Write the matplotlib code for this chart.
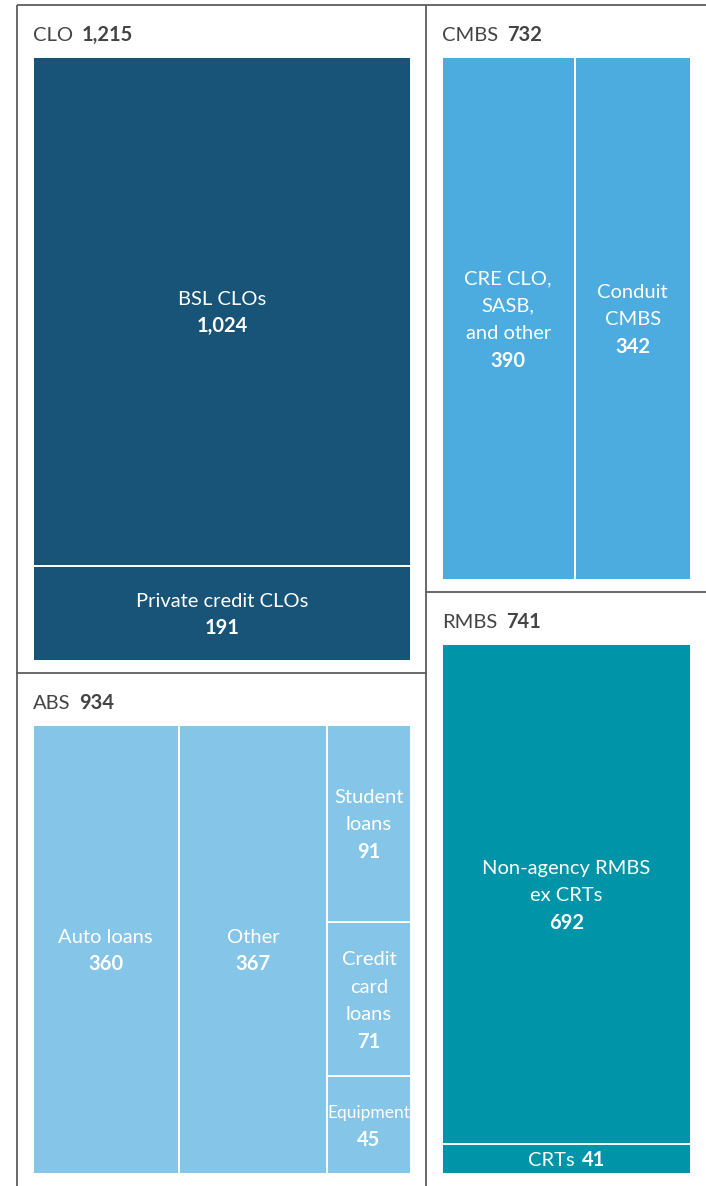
import matplotlib
matplotlib.use("Agg")
import matplotlib.pyplot as plt
from matplotlib.patches import Rectangle

plt.rcParams['font.family'] = ['Lato', 'DejaVu Sans']

# Sector totals ($bn)
group_names = ['CLO', 'ABS', 'CMBS', 'RMBS']
group_totals = [1215, 934, 732, 741]

# Sub-sectors
clo_names = ['BSL CLOs', 'Private credit CLOs']
clo_values = [1024, 191]

cmbs_names = ['CRE CLO,\nSASB,\nand other', 'Conduit\nCMBS']
cmbs_values = [390, 342]

rmbs_names = ['Non-agency RMBS\nex CRTs', 'CRTs']
rmbs_values = [692, 41]

abs_names = ['Auto loans', 'Other']
abs_values = [360, 367]
abs_small_names = ['Student\nloans', 'Credit\ncard\nloans', 'Equipment']
abs_small_values = [91, 71, 45]

colors = {'CLO': '#185478', 'CMBS': '#4dacdf', 'ABS': '#85c5e8', 'RMBS': '#0094a8'}
line_col = '#5e5e5e'
title_col = '#444444'

W_PX, H_PX = 706, 1186
fig = plt.figure(figsize=(W_PX / 100, H_PX / 100), dpi=100)
ax = fig.add_axes([0, 0, 1, 1])
ax.set_xlim(0, W_PX)
ax.set_ylim(H_PX, 0)
ax.axis('off')
renderer = fig.canvas.get_renderer()

FS = 14.5
LINE_H = 27.5


def split(x, y, w, h, values, vertical):
    """Slice a box proportionally to values; vertical=True stacks top to bottom."""
    tot = float(sum(values))
    out = []
    pos = 0.0
    for v in values:
        frac = v / tot
        if vertical:
            out.append((x, y + pos * h, w, frac * h))
        else:
            out.append((x + pos * w, y, frac * w, h))
        pos += frac
    return out


def text_width(t):
    return t.get_window_extent(renderer).width


def inline_pair(x, y, left, right, color, ha='left', size=FS, gap=8):
    t1 = ax.text(x, y, left, color=color, fontsize=size, va='baseline')
    t2 = ax.text(x, y, right, color=color, fontsize=size, va='baseline',
                 fontweight='bold')
    w1, w2 = text_width(t1), text_width(t2)
    start = x if ha == 'left' else x - (w1 + gap + w2) / 2
    t1.set_x(start)
    t2.set_x(start + w1 + gap)


def cell(rect, name, value, color, inline=False):
    x, y, w, h = rect
    ax.add_patch(Rectangle((x, y), w, h, facecolor=color, edgecolor='white',
                           linewidth=1.4))
    cx, cy = x + w / 2, y + h / 2
    val = f'{value:,}'
    if inline:
        inline_pair(cx, cy + 7, name, val, 'white', ha='center', gap=7)
        return
    lines = name.split('\n') + [val]
    n = len(lines)
    for i, s in enumerate(lines):
        yy = cy + (i - (n - 1) / 2) * LINE_H + 7
        t = ax.text(cx, yy, s, color='white', fontsize=FS, ha='center',
                    va='baseline', fontweight='bold' if i == n - 1 else 'normal')
        # shrink a label that would spill over the cell edges
        tw = text_width(t)
        if tw > w - 1:
            t.set_fontsize(FS * (w - 1) / tw)


# outer frame and panel boxes from totals
X0, X1, Y0, Y1 = 17, W_PX, 5, H_PX
tot = sum(group_totals)
left_w = (X1 - X0) * (group_totals[0] + group_totals[1]) / tot
xl, xr = X0, X0 + left_w
clo_h = (Y1 - Y0) * group_totals[0] / (group_totals[0] + group_totals[1])
cmbs_h = (Y1 - Y0) * group_totals[2] / (group_totals[2] + group_totals[3])

panels = {
    'CLO': (xl, Y0, left_w, clo_h),
    'ABS': (xl, Y0 + clo_h, left_w, (Y1 - Y0) - clo_h),
    'CMBS': (xr, Y0, X1 - xr, cmbs_h),
    'RMBS': (xr, Y0 + cmbs_h, X1 - xr, (Y1 - Y0) - cmbs_h),
}

PAD_L, PAD_R, PAD_T, PAD_B = 16, 15, 52, 12


def inner(box):
    x, y, w, h = box
    return (x + PAD_L, y + PAD_T, w - PAD_L - PAD_R, h - PAD_T - PAD_B)


for g, total in zip(group_names, group_totals):
    px, py, pw, ph = panels[g]
    inline_pair(px + PAD_L, py + 36, g, f'{total:,}', title_col, gap=9)

# CLO
for r, n, v in zip(split(*inner(panels['CLO']), clo_values, True), clo_names, clo_values):
    cell(r, n, v, colors['CLO'])

# CMBS
for r, n, v in zip(split(*inner(panels['CMBS']), cmbs_values, False), cmbs_names, cmbs_values):
    cell(r, n, v, colors['CMBS'])

# RMBS
rm = split(*inner(panels['RMBS']), rmbs_values, True)
cell(rm[0], rmbs_names[0], rmbs_values[0], colors['RMBS'])
cell(rm[1], rmbs_names[1], rmbs_values[1], colors['RMBS'], inline=True)

# ABS
abs_cols = split(*inner(panels['ABS']), abs_values + [sum(abs_small_values)], False)
for r, n, v in zip(abs_cols[:2], abs_names, abs_values):
    cell(r, n, v, colors['ABS'])
for r, n, v in zip(split(*abs_cols[2], abs_small_values, True), abs_small_names, abs_small_values):
    cell(r, n, v, colors['ABS'])

# frame lines
lw = 1.3
ax.plot([X0, X0], [Y0, Y1], color=line_col, lw=lw, solid_capstyle='butt')
ax.plot([X0, X1], [Y0, Y0], color=line_col, lw=lw, solid_capstyle='butt')
ax.plot([xr, xr], [Y0, Y1], color=line_col, lw=lw, solid_capstyle='butt')
ax.plot([X0, xr], [Y0 + clo_h, Y0 + clo_h], color=line_col, lw=lw)
ax.plot([xr, X1], [Y0 + cmbs_h, Y0 + cmbs_h], color=line_col, lw=lw)

fig.savefig('out.png', dpi=100, facecolor='white')
